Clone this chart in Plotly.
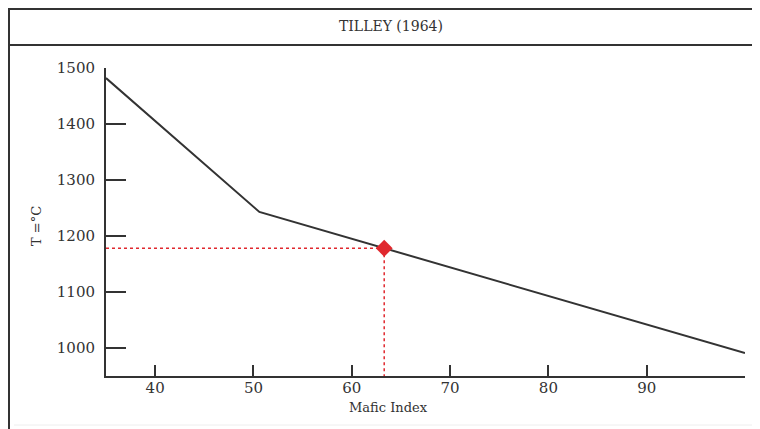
import plotly.graph_objects as go

# ---- data ----
mafic_index = [35, 50.6, 100]
temperature = [1482, 1243, 991]
sample_mi = [63.3]
sample_t = [1178]
x_ticks = [40, 50, 60, 70, 80, 90, 100]
x_ticklabels = ["40", "50", "60", "70", "80", "90", ""]
y_ticks = [1000, 1100, 1200, 1300, 1400, 1500]
y_ticklabels = ["1000", "1100", "1200", "1300", "1400", "1500"]
x_range = [35, 100]
y_range = [950, 1500]

FONT = "DejaVu Serif"
INK = "#333333"
RED = "#e0282e"

fig = go.Figure()

fig.add_trace(go.Scatter(x=mafic_index, y=temperature, mode="lines",
                         line=dict(color=INK, width=2), hoverinfo="skip",
                         showlegend=False, cliponaxis=False))
# dotted guides
fig.add_trace(go.Scatter(x=[x_range[0], sample_mi[0]], y=[sample_t[0], sample_t[0]],
                         mode="lines", line=dict(color=RED, width=1.5, dash="dot"),
                         showlegend=False))
fig.add_trace(go.Scatter(x=[sample_mi[0], sample_mi[0]], y=[sample_t[0], y_range[0]],
                         mode="lines", line=dict(color=RED, width=1.5, dash="dot"),
                         showlegend=False))
fig.add_trace(go.Scatter(x=sample_mi, y=sample_t, mode="markers",
                         marker=dict(symbol="diamond", size=13, color=RED),
                         showlegend=False, cliponaxis=False))

OFF = 8  # page body margin
W, H = 760 - OFF, 429 - OFF
L, T = 106 - OFF, 68 - OFF
R = W - (745 - OFF)
B = H - (376 - OFF)
pw, ph = W - L - R, H - T - B


def px(x):
    return (x - OFF - L) / pw


def py(y):
    return (H - B - (y - OFF)) / ph


fig.update_layout(
    width=W, height=H,
    margin=dict(l=L, r=R, t=T, b=B),
    paper_bgcolor="white", plot_bgcolor="white",
    font=dict(family=FONT, color=INK, size=15),
    xaxis=dict(range=x_range, showgrid=False, zeroline=False,
               showline=True, linecolor=INK, linewidth=2,
               ticks="inside", ticklen=11, tickwidth=2, tickcolor=INK,
               tickvals=x_ticks, ticktext=x_ticklabels,
               tickfont=dict(family=FONT, size=15, color=INK),
               ticklabelstandoff=-3),
    yaxis=dict(range=y_range, showgrid=False, zeroline=False,
               showline=True, linecolor=INK, linewidth=2,
               ticks="inside", ticklen=20, tickwidth=2, tickcolor=INK,
               tickvals=y_ticks, ticktext=y_ticklabels,
               tickfont=dict(family=FONT, size=15, color=INK),
               ticklabelstandoff=6),
    shapes=[
        dict(type="line", xref="paper", yref="paper", x0=px(9), x1=px(9),
             y0=py(8), y1=py(440), line=dict(color=INK, width=2)),
        dict(type="line", xref="paper", yref="paper", x0=px(8), x1=px(775),
             y0=py(9), y1=py(9), line=dict(color=INK, width=2)),
        dict(type="line", xref="paper", yref="paper", x0=px(8), x1=px(775),
             y0=py(45), y1=py(45), line=dict(color=INK, width=2)),
        dict(type="line", xref="paper", yref="paper", x0=px(14), x1=px(775),
             y0=py(425), y1=py(425), line=dict(color="#eeeeee", width=1)),
    ],
    annotations=[
        dict(text="TILLEY (1964)", xref="paper", yref="paper", x=px(391), y=py(26),
             showarrow=False, xanchor="center", yanchor="middle",
             font=dict(family=FONT, size=14, color=INK)),
        dict(text="Mafic Index", xref="paper", yref="paper", x=px(388), y=py(407),
             showarrow=False, xanchor="center", yanchor="middle",
             font=dict(family=FONT, size=13, color=INK)),
        dict(text="T =°C", xref="paper", yref="paper", x=px(36), y=py(226),
             showarrow=False, xanchor="center", yanchor="middle", textangle=-90,
             font=dict(family=FONT, size=13, color=INK)),
    ],
)

fig.write_html(
    "out.html",
    post_script="document.documentElement.style.overflow='hidden';"
                "document.body.style.overflow='hidden';",
)
